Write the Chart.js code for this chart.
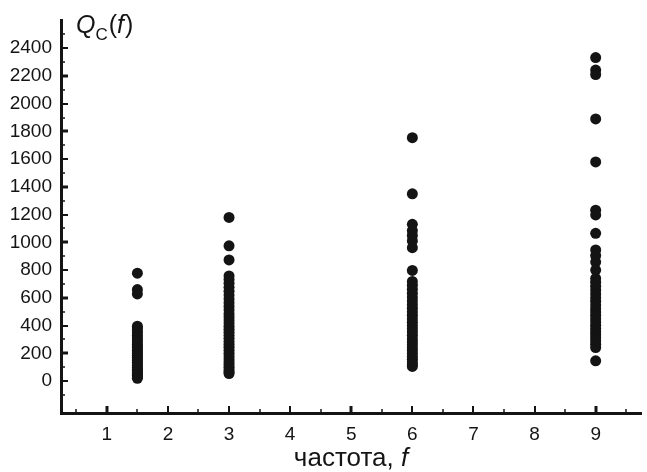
<!DOCTYPE html>
<html lang="ru">
<head>
<meta charset="UTF-8" />
<title>Q_C(f) vs frequency</title>
<script src="https://cdn.jsdelivr.net/npm/chart.js@4.4.0/dist/chart.umd.min.js"></script>
<style>
  html, body { margin: 0; padding: 0; background: #fff; }
  #wrap { width: 647px; height: 472px; position: relative; }
</style>
</head>
<body>
<div id="wrap"><canvas id="qc"></canvas></div>
<script>
// frequency positions of the four columns (the "1" column sits halfway between 1 and 2)
const freqs = [1.5, 3, 6, 9];

// Q_C values for each column
const qAt1 = [778, 660, 628, 396, 382, 365, 348, 330, 312, 296, 282, 265, 250, 238, 222, 210, 198, 186, 172, 160,
  148, 136, 124, 110, 98, 86, 74, 62, 50, 40, 30, 20];
const qAt3 = [1180, 975, 873, 758, 732, 705, 676, 648, 620, 592, 565, 538, 512, 485, 462, 440, 418, 396, 374, 352,
  330, 308, 286, 264, 244, 222, 200, 180, 160, 140, 120, 100, 82, 66, 54];
const qAt6 = [1755, 1350, 1130, 1085, 1050, 1010, 962, 798, 718, 690, 662, 634, 606, 580, 552, 525, 500, 475, 450,
  425, 400, 378, 354, 330, 306, 284, 262, 240, 220, 198, 178, 158, 138, 120, 106];
const qAt9 = [2332, 2242, 2210, 1890, 1580, 1232, 1198, 1065, 945, 905, 858, 800, 740, 712, 684, 656, 628, 600, 575,
  548, 522, 498, 474, 450, 426, 402, 380, 356, 334, 312, 290, 266, 242, 146];

const xTickLabels = [1, 2, 3, 4, 5, 6, 7, 8, 9];
const yTickLabels = [0, 200, 400, 600, 800, 1000, 1200, 1400, 1600, 1800, 2000, 2200, 2400];

const columns = [qAt1, qAt3, qAt6, qAt9];
const points = [];
columns.forEach((col, i) => col.forEach(q => points.push({ x: freqs[i], y: q })));

const INK = '#141414';
const FONT = "'Liberation Sans', Arial, sans-serif";

// inward tick marks, short at halves / hundreds, longer at whole numbers / 200s
const axisTicks = {
  id: 'axisTicks',
  afterDraw(chart) {
    const { ctx, scales: { x, y }, chartArea: a } = chart;
    ctx.save();
    ctx.strokeStyle = INK;
    for (let v = 0.5; v <= 9.5; v += 0.5) {
      const px = Math.round(x.getPixelForValue(v));
      const whole = Number.isInteger(v);
      ctx.lineWidth = (v === 1 || v === 5 || v === 9) ? 3 : (whole ? 2 : 1.5);
      ctx.beginPath();
      ctx.moveTo(px, a.bottom);
      ctx.lineTo(px, a.bottom - (whole ? 7 : 4));
      ctx.stroke();
    }
    for (let v = -100; v <= 2500; v += 100) {
      const py = Math.round(y.getPixelForValue(v));
      const major = v % 200 === 0;
      ctx.lineWidth = ((v - 200) % 400 === 0) ? 3 : (major ? 2 : 1.5);
      ctx.beginPath();
      ctx.moveTo(a.left, py);
      ctx.lineTo(a.left + (major ? 7 : 4), py);
      ctx.stroke();
    }

    // y-axis label Q_C(f)
    ctx.fillStyle = INK;
    ctx.textBaseline = 'alphabetic';
    let tx = 76;
    ctx.font = 'italic 25px ' + FONT;
    ctx.fillText('Q', tx, 33);
    tx += ctx.measureText('Q').width;
    ctx.font = '17px ' + FONT;
    ctx.fillText('C', tx, 40);
    tx += ctx.measureText('C').width + 1;
    ctx.font = '25px ' + FONT;
    ctx.fillText('(', tx, 33);
    tx += ctx.measureText('(').width;
    ctx.font = 'italic 25px ' + FONT;
    ctx.fillText('f', tx, 33);
    tx += ctx.measureText('f').width + 1;
    ctx.font = '25px ' + FONT;
    ctx.fillText(')', tx, 33);

    // x-axis title "частота, f"
    const t1 = 'частота, ';
    ctx.font = 'italic 26px ' + FONT;
    const wF = ctx.measureText('f').width;
    ctx.font = '26px ' + FONT;
    const w1 = ctx.measureText(t1).width;
    const sx = 351 - (w1 + wF) / 2;
    ctx.fillText(t1, sx, 466);
    ctx.font = 'italic 26px ' + FONT;
    ctx.fillText('f', sx + w1, 466);
    ctx.restore();
  }
};

new Chart(document.getElementById('qc'), {
  type: 'scatter',
  data: {
    datasets: [{
      data: points,
      pointRadius: 5.5,
      pointHoverRadius: 5.5,
      pointBackgroundColor: INK,
      pointBorderWidth: 0
    }]
  },
  options: {
    responsive: true,
    maintainAspectRatio: false,
    animation: false,
    events: [],
    layout: { padding: { top: 17, right: 2, left: 0, bottom: 0 } },
    plugins: { legend: { display: false }, tooltip: { enabled: false } },
    scales: {
      x: {
        type: 'linear',
        min: 0.25,
        max: 9.75,
        afterBuildTicks: s => { s.ticks = xTickLabels.map(v => ({ value: v })); },
        afterFit: s => { s.height = 59; },
        grid: { display: false, drawTicks: false },
        border: { display: true, color: INK, width: 3 },
        ticks: { color: INK, padding: 10, font: { family: FONT, size: 19 }, maxRotation: 0,
          callback: v => String(v) }
      },
      y: {
        type: 'linear',
        min: -230,
        max: 2600,
        afterBuildTicks: s => { s.ticks = yTickLabels.map(v => ({ value: v })); },
        afterFit: s => { s.width = 61; },
        grid: { display: false, drawTicks: false },
        border: { display: true, color: INK, width: 3 },
        ticks: { color: INK, padding: 9, font: { family: FONT, size: 19 },
          callback: v => String(v) }
      }
    }
  },
  plugins: [axisTicks]
});
</script>
</body>
</html>
